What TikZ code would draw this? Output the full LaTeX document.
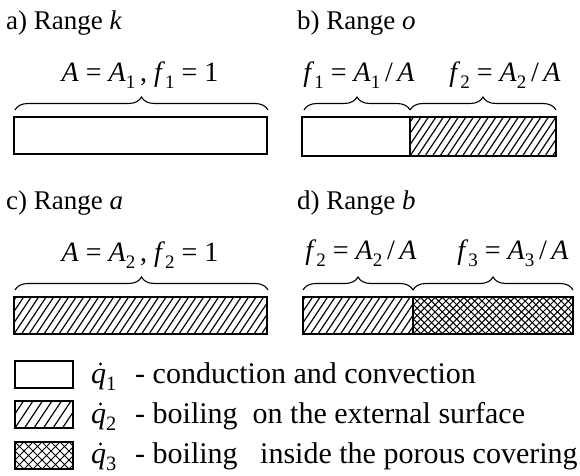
\documentclass[tikz,border=0pt]{standalone}
\usepackage{fontspec}
\setmainfont{Liberation Serif}
\usetikzlibrary{decorations.pathreplacing}
\newcommand\vi[1]{\textit{#1}}
\newcommand\lo[1]{\raisebox{-0.26em}{\scalebox{0.68}{#1}}}
% single hatching: x1,y1,x2,y2,spacing
\newcommand\hatchS[5]{\begin{scope}\clip (#1,#2) rectangle (#3,#4);
  \foreach \k in {-7,...,40} \draw[hl] ({#1+\k*#5},#4) -- ++(40,-60);
  \end{scope}}
% cross hatching
\newcommand\hatchX[5]{\begin{scope}\clip (#1,#2) rectangle (#3,#4);
  \foreach \k in {-7,...,45} {\draw[xl] ({#1+\k*#5},#4) -- ++(50,-50);
    \draw[xl] ({#1+\k*#5},#2) -- ++(50,50);}
  \end{scope}}
\begin{document}
\begin{tikzpicture}[x=1pt,y=-1pt,
 bar/.style={draw, line width=2.8pt},
 hl/.style={line width=1.2pt},
 xl/.style={line width=1pt},
 brc/.style={decorate,decoration={brace,amplitude=13pt},line width=1.1pt},
 ttl/.style={anchor=base west,inner sep=0,font=\fontsize{27}{32}\selectfont},
 lbl/.style={anchor=base,inner sep=0,font=\fontsize{28}{34}\selectfont},
 leg/.style={anchor=base west,inner sep=0,font=\fontsize{30}{36}\selectfont},
 qdot/.style={fill,radius=1.7pt}]
\useasboundingbox (0,0) rectangle (580,475);
% titles
\node[ttl] (ta) at (6,29) {a) Range \vi{k}};
\node[ttl] (tb) at (297,29) {b) Range \vi{o}};
\node[ttl] (tc) at (6,209) {c) Range \vi{a}};
\node[ttl] (td) at (297,209) {d) Range \vi{b}};
% panel a
\node[lbl] (la) at (140,81) {\vi{A} = \vi{A}\lo{1}\,, \vi{f}\lo{1} = 1};
\draw[brc] (15,110) -- (268,110);
\draw[bar] (14,117) rectangle (267,154);
% panel b
\node[lbl] (lb1) at (359,81) {\vi{f}\lo{1} = \vi{A}\lo{1}\,/\,\vi{A}};
\node[lbl] (lb2) at (505,81) {\vi{f}\lo{2} = \vi{A}\lo{2}\,/\,\vi{A}};
\draw[brc] (304,110) -- (410,110);
\draw[brc] (410,110) -- (556,110);
\hatchS{410}{117}{556}{156}{7.5}
\draw[bar] (302,117) rectangle (556,156);
\draw[bar] (410,117) -- (410,156);
% panel c
\node[lbl] (lc) at (140,261) {\vi{A} = \vi{A}\lo{2}\,, \vi{f}\lo{2} = 1};
\draw[brc] (15,290) -- (268,290);
\hatchS{14}{297}{267}{334}{7.5}
\draw[bar] (14,297) rectangle (267,334);
% panel d
\node[lbl] (ld1) at (361,259) {\vi{f}\lo{2} = \vi{A}\lo{2}\,/\,\vi{A}};
\node[lbl] (ld2) at (513,259) {\vi{f}\lo{3} = \vi{A}\lo{3}\,/\,\vi{A}};
\draw[brc] (303,290) -- (413,290);
\draw[brc] (413,290) -- (573,290);
\hatchS{303}{297}{413}{334}{7.5}
\hatchX{413}{297}{573}{334}{7.2}
\draw[bar] (303,297) rectangle (573,334);
\draw[bar] (413,297) -- (413,334);
% legend
\draw[bar] (15,361) rectangle (73,388);
\hatchS{15}{401}{73}{428}{9.5}
\draw[bar] (15,401) rectangle (73,428);
\hatchX{15}{442}{73}{469}{9}
\draw[bar] (15,442) rectangle (73,469);
\node[leg] (q1) at (91,383) {\vi{q}\lo{1}};
\node[leg] (q2) at (91,423) {\vi{q}\lo{2}};
\node[leg] (q3) at (91,463) {\vi{q}\lo{3}};
\fill[qdot] ([xshift=9.5pt,yshift=19pt]q1.base west) circle;
\fill[qdot] ([xshift=9.5pt,yshift=19pt]q2.base west) circle;
\fill[qdot] ([xshift=9.5pt,yshift=19pt]q3.base west) circle;
\node[leg] (g1) at (135,383) {- conduction and convection};
\node[leg] (g2) at (135,423) {- boiling \ on the external surface};
\node[leg] (g3) at (135,463) {- boiling \ \ inside the porous covering};
\end{tikzpicture}
\end{document}
